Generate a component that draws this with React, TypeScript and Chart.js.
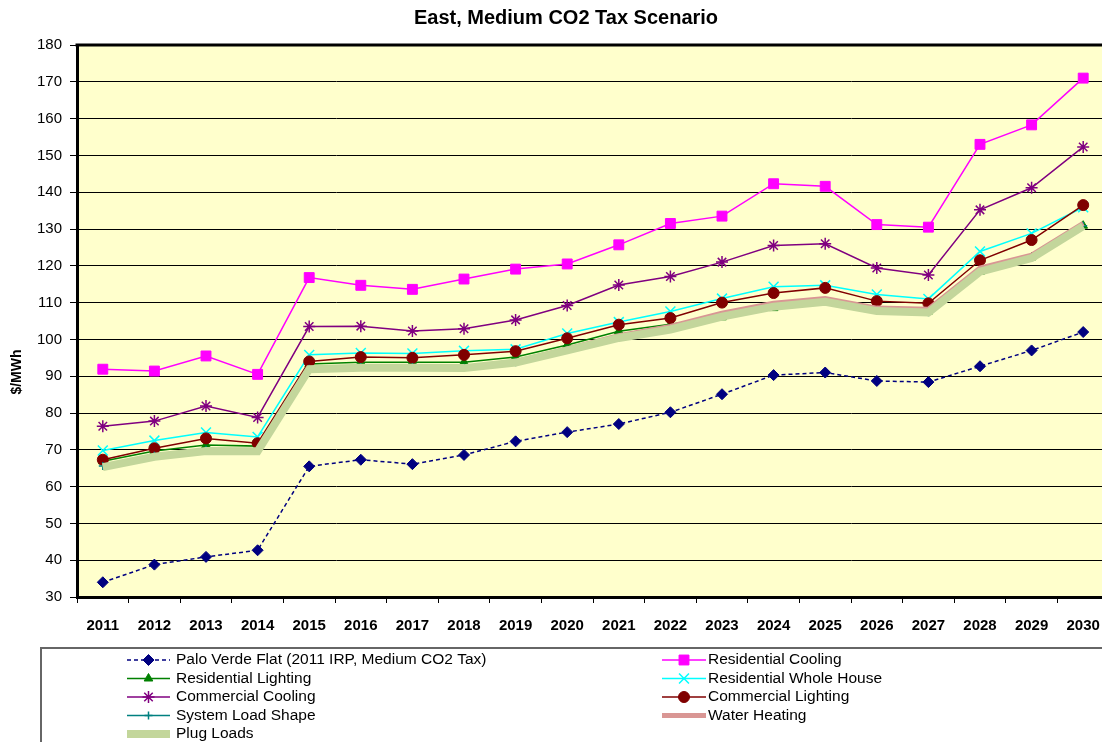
import React, { useEffect, useRef } from 'react';
import { Chart, registerables } from 'chart.js';

Chart.register(...registerables);

const years = ['2011', '2012', '2013', '2014', '2015', '2016', '2017', '2018', '2019', '2020', '2021', '2022', '2023', '2024', '2025', '2026', '2027', '2028', '2029', '2030'];

const paloVerde = [34.0, 38.8, 40.9, 42.7, 65.5, 67.3, 66.1, 68.6, 72.3, 74.8, 77.0, 80.2, 85.1, 90.3, 91.0, 88.7, 88.4, 92.7, 97.0, 102.0];
const resCooling = [91.9, 91.4, 95.5, 90.5, 116.8, 114.7, 113.6, 116.4, 119.1, 120.5, 125.7, 131.5, 133.5, 142.3, 141.6, 131.2, 130.5, 153.0, 158.3, 171.0];
const resLighting = [66.9, 69.7, 71.3, 71.0, 93.3, 93.8, 93.8, 93.8, 95.2, 98.5, 102.2, 104.1, 106.0, 108.5, 110.0, 108.1, 107.6, 118.4, 122.3, 130.9];
const resWholeHouse = [69.8, 72.5, 74.7, 73.5, 95.8, 96.3, 96.2, 96.9, 97.3, 101.6, 104.7, 107.6, 111.1, 114.3, 114.7, 112.2, 111.0, 123.9, 128.8, 135.9];
const comCooling = [76.4, 77.8, 81.9, 78.8, 103.5, 103.6, 102.3, 102.9, 105.3, 109.2, 114.8, 117.1, 121.0, 125.5, 126.0, 119.4, 117.5, 135.2, 141.2, 152.3];
const comLighting = [67.3, 70.4, 73.1, 71.8, 94.0, 95.2, 95.0, 95.8, 96.8, 100.3, 104.0, 105.8, 110.0, 112.6, 114.0, 110.4, 109.8, 121.5, 127.0, 136.5];
const systemLoad = [65.6, 68.4, 70.0, 69.9, 92.0, 92.5, 92.5, 92.3, 93.8, 97.2, 100.6, 102.9, 106.4, 109.1, 110.4, 107.8, 107.4, 118.5, 122.3, 130.9];
const waterHeating = [65.5, 68.3, 69.9, 69.8, 92.0, 92.4, 92.4, 92.3, 93.9, 97.4, 101.0, 103.5, 107.1, 109.8, 111.1, 108.5, 108.2, 119.4, 122.9, 131.5];
const plugLoads = [65.3, 68.1, 69.7, 69.6, 91.9, 92.3, 92.3, 92.2, 93.7, 97.0, 100.4, 102.7, 106.2, 108.9, 110.2, 107.7, 107.3, 118.4, 122.1, 130.8];

const TITLE = 'East, Medium CO2 Tax Scenario';
const Y_TITLE = '$/MWh';
const FONT = '"Liberation Sans", Arial, sans-serif';
const W = 1132;
const H = 742;

type Series = {
  label: string;
  data: number[];
  color: string;
  fill: string;
  width: number;
  dash: number[];
  style: string | false;
  radius: number;
  pbw: number;
  order: number;
};

// order: lower value is drawn on top (Excel draws later series on top)
const series: Series[] = [
  { label: 'Palo Verde Flat (2011 IRP, Medium CO2 Tax)', data: paloVerde, color: '#000080', fill: '#000080', width: 1.5, dash: [4, 3], style: 'rectRot', radius: 5.5, pbw: 1, order: 9 },
  { label: 'Residential Cooling', data: resCooling, color: '#FF00FF', fill: '#FF00FF', width: 1.5, dash: [], style: 'rect', radius: 7, pbw: 1, order: 8 },
  { label: 'Residential Lighting', data: resLighting, color: '#008000', fill: '#008000', width: 1.5, dash: [], style: 'triangle', radius: 5, pbw: 1, order: 7 },
  { label: 'Residential Whole House', data: resWholeHouse, color: '#00FFFF', fill: '#00FFFF', width: 1.5, dash: [], style: 'crossRot', radius: 7, pbw: 1.5, order: 6 },
  { label: 'Commercial Cooling', data: comCooling, color: '#800080', fill: '#800080', width: 1.5, dash: [], style: 'star', radius: 6, pbw: 1.5, order: 5 },
  { label: 'Commercial Lighting', data: comLighting, color: '#800000', fill: '#800000', width: 1.5, dash: [], style: 'circle', radius: 5.5, pbw: 1, order: 4 },
  { label: 'System Load Shape', data: systemLoad, color: '#008080', fill: '#008080', width: 1.5, dash: [], style: 'cross', radius: 4, pbw: 1.5, order: 3 },
  { label: 'Water Heating', data: waterHeating, color: '#D99694', fill: '#D99694', width: 5, dash: [], style: false, radius: 0, pbw: 0, order: 2 },
  { label: 'Plug Loads', data: plugLoads, color: '#C3D69B', fill: '#C3D69B', width: 8, dash: [], style: false, radius: 0, pbw: 0, order: 1 },
];

function drawMarker(ctx: CanvasRenderingContext2D, s: Series, x: number, y: number) {
  if (!s.style) return;
  const r = s.radius;
  ctx.save();
  ctx.setLineDash([]);
  ctx.lineWidth = s.pbw;
  ctx.strokeStyle = s.color;
  ctx.fillStyle = s.fill;
  ctx.beginPath();
  switch (s.style) {
    case 'circle':
      ctx.arc(x, y, r, 0, Math.PI * 2);
      ctx.fill();
      ctx.stroke();
      break;
    case 'rect': {
      const d = r * Math.SQRT1_2;
      ctx.rect(x - d, y - d, 2 * d, 2 * d);
      ctx.fill();
      ctx.stroke();
      break;
    }
    case 'rectRot':
      ctx.moveTo(x, y - r);
      ctx.lineTo(x + r, y);
      ctx.lineTo(x, y + r);
      ctx.lineTo(x - r, y);
      ctx.closePath();
      ctx.fill();
      ctx.stroke();
      break;
    case 'triangle':
      ctx.moveTo(x, y - r);
      ctx.lineTo(x + 0.866 * r, y + 0.5 * r);
      ctx.lineTo(x - 0.866 * r, y + 0.5 * r);
      ctx.closePath();
      ctx.fill();
      ctx.stroke();
      break;
    case 'cross':
      ctx.moveTo(x, y - r);
      ctx.lineTo(x, y + r);
      ctx.moveTo(x - r, y);
      ctx.lineTo(x + r, y);
      ctx.stroke();
      break;
    case 'crossRot': {
      const d = r * Math.SQRT1_2;
      ctx.moveTo(x - d, y - d);
      ctx.lineTo(x + d, y + d);
      ctx.moveTo(x - d, y + d);
      ctx.lineTo(x + d, y - d);
      ctx.stroke();
      break;
    }
    case 'star': {
      const d = r * Math.SQRT1_2;
      ctx.moveTo(x, y - r);
      ctx.lineTo(x, y + r);
      ctx.moveTo(x - r, y);
      ctx.lineTo(x + r, y);
      ctx.moveTo(x - d, y - d);
      ctx.lineTo(x + d, y + d);
      ctx.moveTo(x - d, y + d);
      ctx.lineTo(x + d, y - d);
      ctx.stroke();
      break;
    }
  }
  ctx.restore();
}

const decorPlugin = {
  id: 'decor',
  beforeDraw(chart: any) {
    const { ctx, chartArea } = chart;
    ctx.save();
    ctx.fillStyle = '#FFFFFF';
    ctx.fillRect(0, 0, chart.width, chart.height);
    ctx.fillStyle = '#FFFFCC';
    ctx.fillRect(chartArea.left, chartArea.top, chartArea.right - chartArea.left, chartArea.bottom - chartArea.top);
    ctx.restore();
  },
  afterDraw(chart: any) {
    const { ctx, chartArea } = chart;
    ctx.save();
    ctx.strokeStyle = '#000';
    ctx.lineWidth = 3;
    ctx.beginPath();
    ctx.moveTo(chartArea.left - 1.5, chartArea.top);
    ctx.lineTo(chartArea.right, chartArea.top);
    ctx.stroke();

    ctx.fillStyle = '#000';
    ctx.font = `bold 20px ${FONT}`;
    ctx.textAlign = 'center';
    ctx.textBaseline = 'middle';
    ctx.fillText(TITLE, 566, 18);

    ctx.save();
    ctx.translate(17, 372);
    ctx.rotate(-Math.PI / 2);
    ctx.font = `bold 14px ${FONT}`;
    ctx.fillText(Y_TITLE, 0, 0);
    ctx.restore();

    ctx.strokeStyle = '#666';
    ctx.lineWidth = 2;
    ctx.strokeRect(41, 648, 1200, 200);

    const cols = [
      { x0: 127, x1: 170, tx: 176 },
      { x0: 662, x1: 706, tx: 708 },
    ];
    const rows = [660, 678.5, 697, 715.5, 734];
    ctx.font = `15.5px ${FONT}`;
    ctx.textAlign = 'left';
    ctx.textBaseline = 'middle';
    series.forEach((s, i) => {
      const c = cols[i % 2];
      const y = rows[Math.floor(i / 2)];
      ctx.save();
      ctx.strokeStyle = s.color;
      ctx.lineWidth = s.width;
      ctx.setLineDash(s.dash);
      ctx.beginPath();
      ctx.moveTo(c.x0, y);
      ctx.lineTo(c.x1, y);
      ctx.stroke();
      ctx.restore();
      drawMarker(ctx, s, (c.x0 + c.x1) / 2, y);
      ctx.fillStyle = '#000';
      ctx.fillText(s.label, c.tx, y);
    });
    ctx.restore();
  },
};

export default function App() {
  const ref = useRef<HTMLCanvasElement | null>(null);

  useEffect(() => {
    if (!ref.current) return;
    const datasets = series.map((s) => ({
      label: s.label,
      data: s.data,
      borderColor: s.color,
      backgroundColor: s.fill,
      borderWidth: s.width,
      borderDash: s.dash,
      pointStyle: s.style as any,
      pointRadius: s.radius,
      pointBorderWidth: s.pbw,
      pointBackgroundColor: s.fill,
      pointBorderColor: s.color,
      tension: 0,
      fill: false,
      order: s.order,
    }));
    const chart = new Chart(ref.current, {
      type: 'line',
      data: { labels: years, datasets },
      options: {
        animation: false,
        responsive: false,
        devicePixelRatio: 1,
        layout: { padding: { left: 0, top: 45, right: W - 1109, bottom: 95 } },
        plugins: {
          legend: { display: false },
          title: { display: false },
          tooltip: { enabled: false },
        },
        scales: {
          x: {
            offset: true,
            grid: { offset: true, drawOnChartArea: false, drawTicks: true, tickLength: 6, color: '#000', lineWidth: 1 },
            border: { display: true, color: '#000', width: 3 },
            ticks: { color: '#000', font: { family: FONT, size: 15, weight: 'bold' }, padding: 14, maxRotation: 0, autoSkip: false },
            afterFit: (s: any) => { s.height = 50; },
          },
          y: {
            min: 30,
            max: 180,
            ticks: { stepSize: 10, color: '#000', font: { family: FONT, size: 15 }, padding: 8 },
            grid: { color: '#000', lineWidth: 1, tickLength: 7, drawTicks: true },
            border: { display: true, color: '#000', width: 3 },
            afterFit: (s: any) => { s.width = 77; },
          },
        },
      } as any,
      plugins: [decorPlugin],
    });
    return () => chart.destroy();
  }, []);

  return (
    <div style={{ position: 'fixed', left: 0, top: 0, width: 1102, height: 742, overflow: 'hidden', background: '#fff' }}>
      <canvas ref={ref} width={W} height={H} style={{ display: 'block', width: W, height: H }} />
    </div>
  );
}
